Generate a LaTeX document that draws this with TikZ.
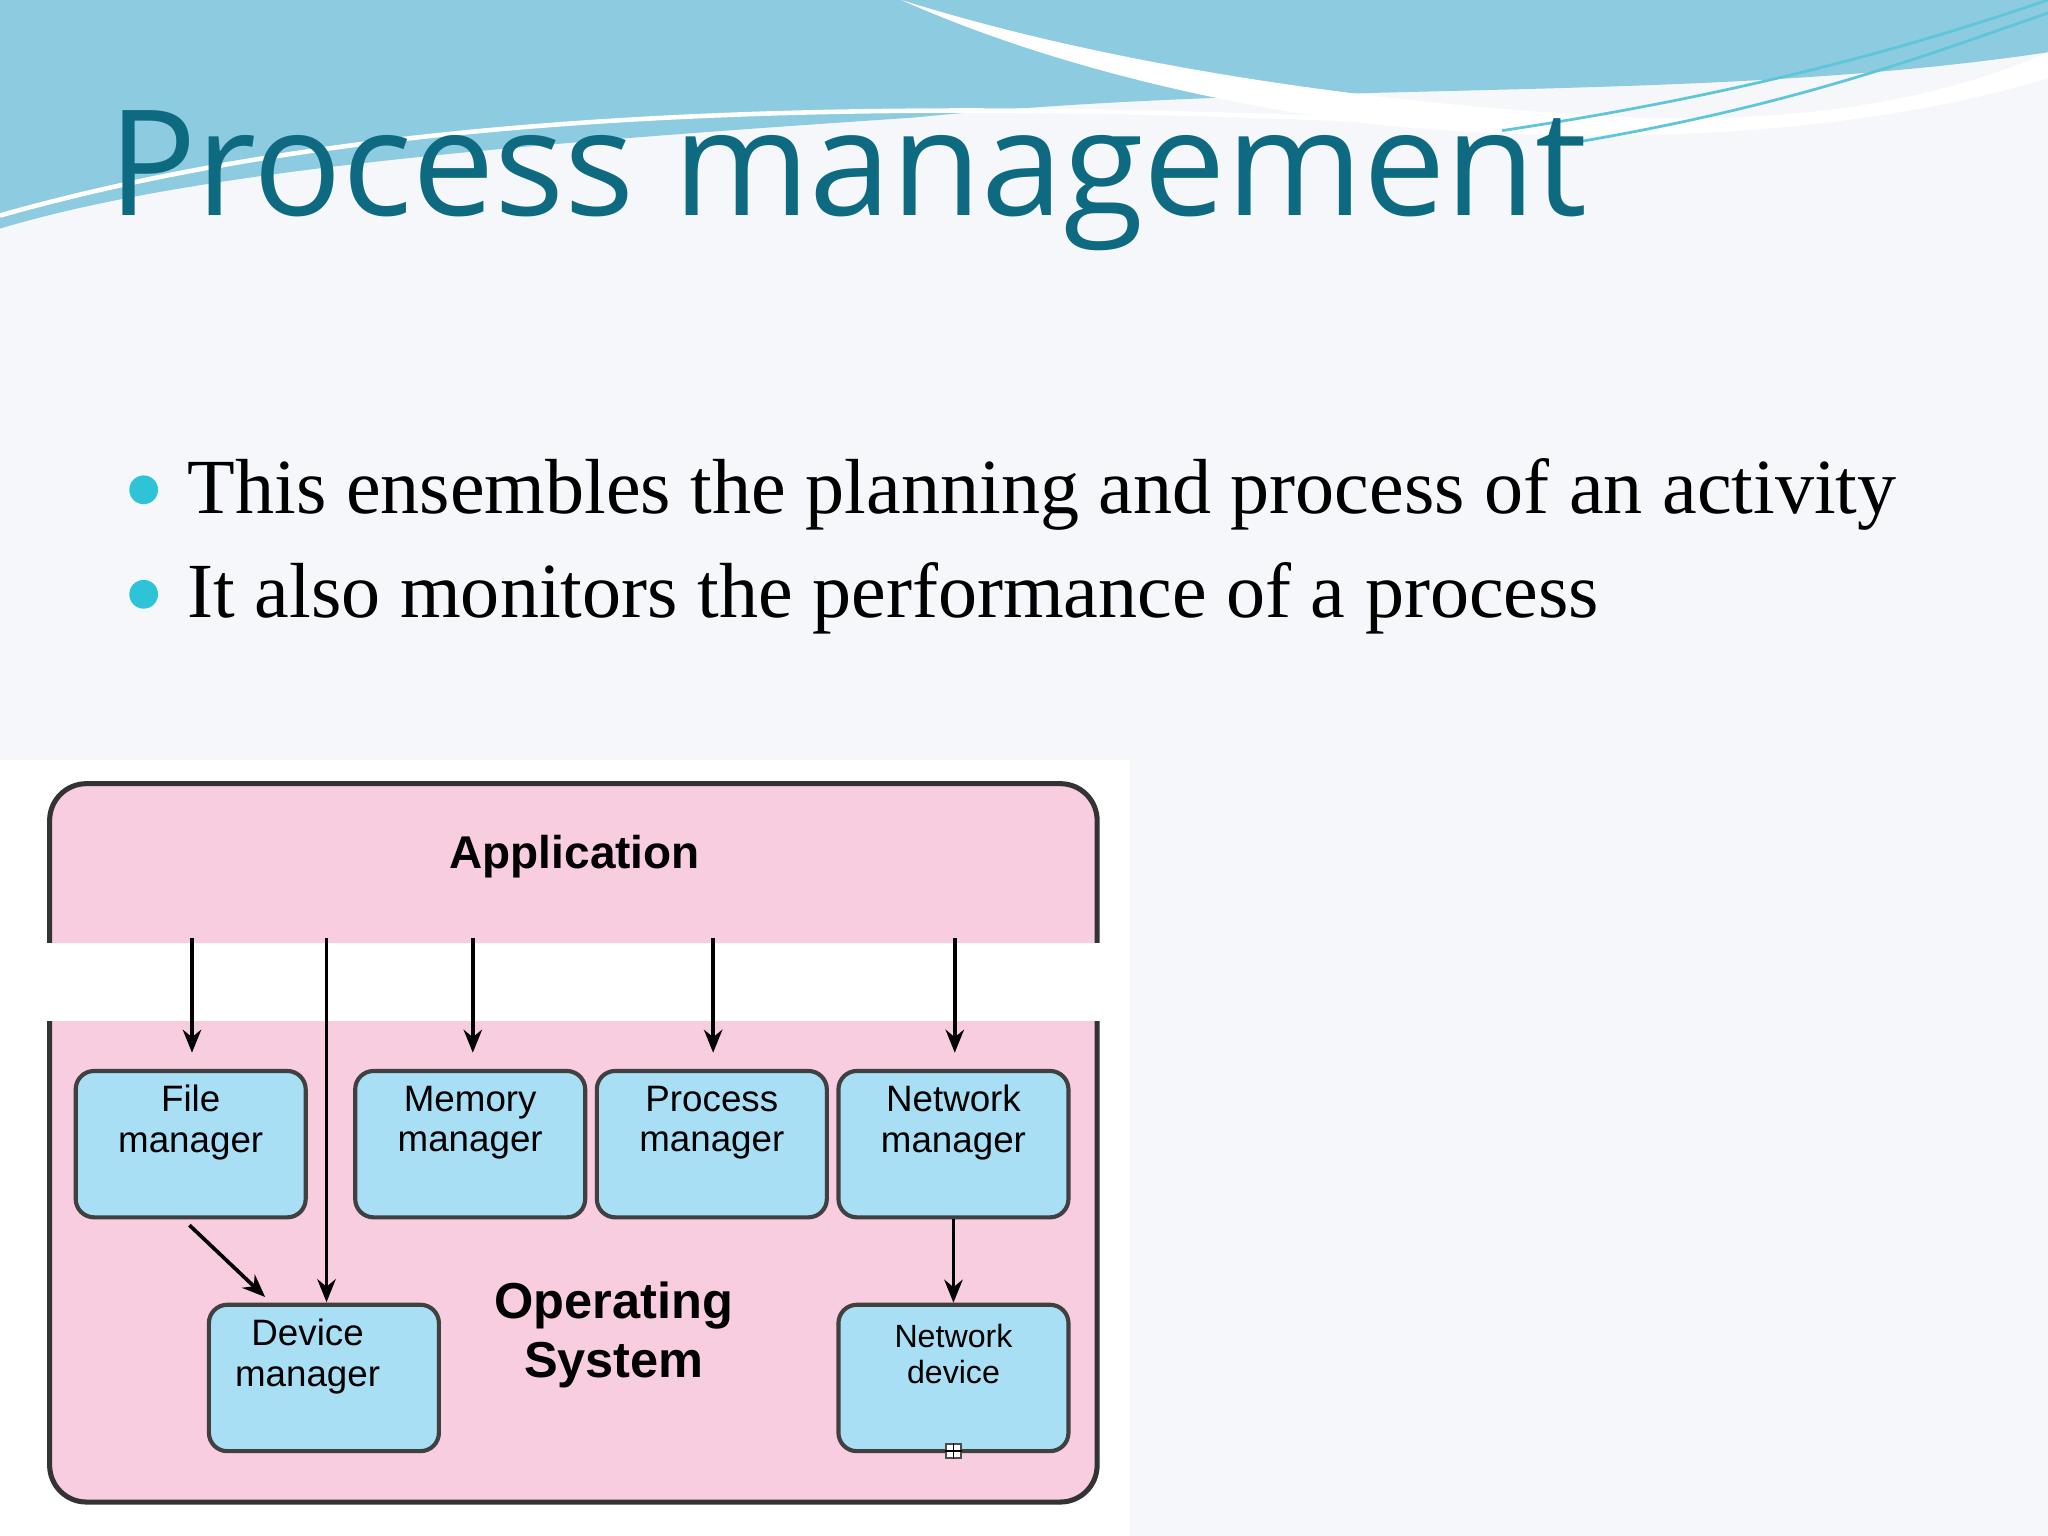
\documentclass[tikz,border=0pt]{standalone}
\usepackage{fontspec}
\setmainfont{Liberation Serif}
\newfontfamily\titlefont{Open Sans}
\newfontfamily\diafont{Liberation Sans}
\usetikzlibrary{arrows.meta}
\definecolor{bgc}{HTML}{F6F7FA}
\definecolor{sky}{HTML}{8CCBE0}
\definecolor{sky2}{HTML}{5FC6DA}
\definecolor{titlec}{HTML}{0E6A80}
\definecolor{pinkc}{HTML}{F7CDDF}
\definecolor{boxc}{HTML}{A8DFF4}
\definecolor{bull}{HTML}{2EC3D6}
\tikzset{
  mgr/.style={draw=black!75,line width=0.9pt,fill=boxc,rounded corners=4pt,minimum width=1.76cm,minimum height=1.12cm,align=center,font=\diafont\fontsize{8}{8.8}\selectfont,inner sep=0pt},
  arr/.style={-{Stealth[length=5pt,width=4pt]},line width=0.8pt},
  bul/.style={anchor=base west,font=\fontsize{17}{20}\selectfont},
}
\begin{document}
\begin{tikzpicture}[x=0.01cm,y=-0.01cm]
\useasboundingbox (0,0) rectangle (1568,1176);
\fill[bgc] (0,0) rectangle (1568,1176);
% top wave
\fill[sky] (0,0) -- (1568,0) -- (1568,40) .. controls (1300,80) and (1000,60) .. (700,90) .. controls (400,110) and (150,130) .. (0,175) -- cycle;
\fill[white] (690,0) .. controls (850,50) and (1050,80) .. (1250,90) .. controls (1400,95) and (1500,70) .. (1568,40) -- (1568,60) .. controls (1400,110) and (1200,110) .. (1050,95) .. controls (900,75) and (780,40) .. (690,0) -- cycle;
\draw[white,line width=1pt] (0,165) .. controls (300,80) and (700,70) .. (1200,100);
\draw[sky2,line width=0.6pt] (1200,110) .. controls (1380,80) and (1480,40) .. (1568,10);
\draw[sky2,line width=0.6pt] (1150,100) .. controls (1350,70) and (1480,30) .. (1568,0);
% title
\node[anchor=base west,text=titlec,font=\titlefont\fontsize{32}{36}\selectfont,inner sep=0pt] (title) at (82,165) {Process management};
% bullets
\fill[bull] (110,375) circle (11);
\fill[bull] (110,455) circle (11);
\node[bul,inner sep=0pt] (b1) at (143,393) {This ensembles the planning and process of an activity};
\node[bul,inner sep=0pt] (b2) at (143,473) {It also monitors the performance of a process};
% diagram
\fill[white] (0,582) rectangle (865,1176);
\draw[fill=pinkc,line width=1.1pt,draw=black!80,rounded corners=8pt] (38,600) rectangle (840,1150);
\fill[white] (30,722) rectangle (860,782);
\node[font=\diafont\bfseries\fontsize{10}{12}\selectfont] (app) at (440,656) {Application};
\node[font=\diafont\bfseries\fontsize{11}{12.8}\selectfont,align=center] (os) at (470,1022) {Operating\\System};
\node[mgr] (file) at (146,876) {File\\manager\\[0.08cm]};
\node[mgr] (mem) at (360,876) {Memory\\manager\\[0.08cm]};
\node[mgr] (proc) at (545,876) {Process\\manager\\[0.08cm]};
\node[mgr] (net) at (730,876) {Network\\manager\\[0.08cm]};
\node[mgr] (dev) at (248,1055) {\hspace*{-0.25cm}Device\\\hspace*{-0.25cm}manager\\[0.08cm]};
\node[mgr,font=\diafont\fontsize{7}{7.8}\selectfont] (nd) at (730,1055) {Network\\device\\[0.1cm]};
\coordinate (a1) at (147,718);
\coordinate (a2) at (250,718);
\coordinate (a3) at (362,718);
\coordinate (a4) at (546,718);
\coordinate (a5) at (731,718);
\draw[arr] (a1) -- (147,806);
\draw[arr] (a2) -- (250,997);
\draw[arr] (a3) -- (362,806);
\draw[arr] (a4) -- (546,806);
\draw[arr] (a5) -- (731,806);
\draw[arr] (145,938) -- (203,993);
\draw[arr] (net.south) -- (nd.north);
\node[draw=black!70,fill=white,minimum size=0.11cm,inner sep=0pt,line width=0.5pt] (ic) at (730,1111) {};
\draw[line width=0.4pt] (ic.west) -- (ic.east) (ic.north) -- (ic.south);
\end{tikzpicture}
\end{document}
